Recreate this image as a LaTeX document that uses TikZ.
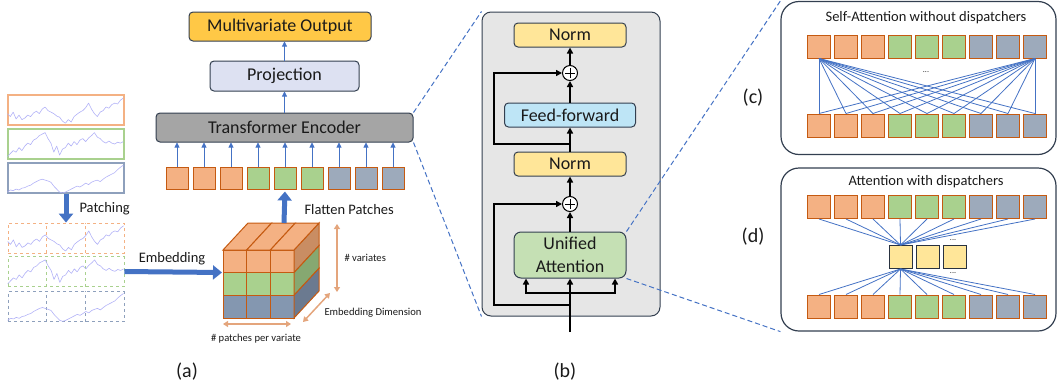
\documentclass[tikz,border=0pt]{standalone}
\usepackage{fontspec}
\setmainfont{Carlito}
\usetikzlibrary{arrows.meta,calc}
\definecolor{orF}{HTML}{F4B183}
\definecolor{orD}{HTML}{C55A11}
\definecolor{orL}{HTML}{F4B183}
\definecolor{grF}{HTML}{A9D18E}
\definecolor{blF}{HTML}{9DAABB}
\definecolor{blF2}{HTML}{8497B0}
\definecolor{orS}{HTML}{C98D63}
\definecolor{grS}{HTML}{86A871}
\definecolor{blS}{HTML}{6B7A90}
\definecolor{orT}{HTML}{F4B183}
\definecolor{blL}{HTML}{8EA0BC}
\definecolor{bl}{HTML}{4472C4}
\definecolor{tanc}{HTML}{E4A57C}
\definecolor{dark}{HTML}{333F50}
\definecolor{gold}{HTML}{FFC846}
\definecolor{lav}{HTML}{DDE1F2}
\definecolor{teg}{HTML}{A5A5A5}
\definecolor{bgg}{HTML}{E6E6E6}
\definecolor{yel}{HTML}{FFE699}
\definecolor{ffb}{HTML}{BEE5F6}
\definecolor{uag}{HTML}{C5E0B4}
\definecolor{ser}{HTML}{B2B2F7}
\definecolor{txt}{HTML}{1A1A1A}
\newcommand\valA{0.30,0.45,0.22,0.35,0.20,0.25,0.35,0.30,0.42,0.48,0.40,0.55,0.62,0.50,0.45,0.40,0.32,0.28,0.15,0.08,0.20,0.12,0.30,0.38,0.45,0.50,0.60,0.75,0.55,0.40,0.30,0.45,0.50,0.62,0.58,0.70,0.75,0.72,0.85,0.92}
\newcommand\valB{0.20,0.30,0.25,0.40,0.30,0.45,0.55,0.50,0.65,0.70,0.80,0.85,0.90,0.70,0.55,0.25,0.45,0.15,0.35,0.40,0.55,0.45,0.60,0.50,0.65,0.70,0.60,0.72,0.80,0.90,0.75,0.70,0.60,0.55,0.62,0.55,0.52,0.58,0.55,0.60}
\newcommand\valC{0.12,0.10,0.15,0.12,0.18,0.20,0.25,0.28,0.35,0.40,0.45,0.48,0.45,0.42,0.38,0.25,0.15,0.05,0.02,0.05,0.10,0.15,0.20,0.25,0.22,0.28,0.35,0.30,0.38,0.42,0.45,0.40,0.48,0.55,0.60,0.65,0.70,0.80,0.88,0.95}
\newcommand\serdraw[2]{\draw[serie] (0,#1) foreach \v [count=\i] in #2 { -- ({\i/40},\v) };}
\newcommand\boxser[3]{%
  \begin{scope}[shift={(#1.south west)}, x=116pt, y=30pt]
    \clip (0,0) rectangle (1,1);
    \serdraw{#2}{#3}
  \end{scope}}
\newcommand\patchser[4]{%
  \draw[#4, dashed, line width=0.8pt] ($(#1.south west)+(38.67,0)$) -- ($(#1.north west)+(38.67,0)$);
  \draw[#4, dashed, line width=0.8pt] ($(#1.south west)+(77.33,0)$) -- ($(#1.north west)+(77.33,0)$);
  \boxser{#1}{#2}{#3}}
\tikzset{
  tok/.style={draw=orD, line width=1pt, minimum size=22pt, inner sep=0pt},
  tokc/.style={draw=orD, line width=1pt, minimum size=23pt, inner sep=0pt},
  disp/.style={draw=dark!80!black, line width=1pt, minimum size=23pt, inner sep=0pt, fill=yel},
  rbox/.style={draw=dark, rounded corners=4pt, line width=1pt, inner sep=0pt, align=center, text=txt},
  tarr/.style={draw=bl, line width=0.8pt, -{Triangle[length=5pt,width=5pt]}},
  bigarr/.style={draw=bl, line width=5pt, -{Triangle[length=9pt,width=14pt]}},
  tanarr/.style={draw=tanc, line width=1.5pt, {Triangle[length=5pt,width=6pt]}-{Triangle[length=5pt,width=6pt]}},
  barr/.style={draw=black, line width=1.6pt, -{Triangle[length=6pt,width=6pt]}},
  zl/.style={draw=bl, dash pattern=on 5pt off 3pt, line width=1pt},
  al/.style={draw=bl, line width=0.8pt},
  sbox/.style={minimum width=116pt, minimum height=30pt, inner sep=0pt, line width=1.2pt},
  serie/.style={draw=ser, line width=0.6pt, line join=round},
  cube/.style={draw=orD, line width=1pt},
  plus/.style={circle, draw=black, line width=1pt, fill=white, minimum size=15pt, inner sep=0pt,
    path picture={\draw[line width=1pt] ([xshift=-5pt]path picture bounding box.center) -- ([xshift=5pt]path picture bounding box.center);
                  \draw[line width=1pt] ([yshift=-5pt]path picture bounding box.center) -- ([yshift=5pt]path picture bounding box.center);}},
  mid/.style={font=\fontsize{14.5}{17}\selectfont, text=txt},
  small/.style={font=\fontsize{10.6}{12}\selectfont, text=txt},
  lab/.style={font=\fontsize{20}{24}\selectfont, text=txt},
  dots/.style={font=\fontsize{8}{9}\selectfont, text=txt, inner sep=0pt},
}
\begin{document}
\begin{tikzpicture}[x=1pt,y=-1pt,font=\fontsize{18}{21}\selectfont]
\useasboundingbox (0,0) rectangle (1057,389);

% ---------- (a) ----------
\node[rbox, fill=gold, minimum width=182pt, minimum height=29pt] (out) at (280,26.5) {Multivariate Output};
\node[rbox, fill=lav, minimum width=149pt, minimum height=30pt] (proj) at (284.5,76) {Projection};
\node[rbox, fill=teg, minimum width=257pt, minimum height=29pt] (te) at (284.5,127.5) {Transformer Encoder};
\draw[tarr] (te.north) -- (proj.south);
\draw[tarr] (proj.north) -- (proj.north |- out.south);

\foreach \i/\c in {1/orF,2/orF,3/orF,4/grF,5/grF,6/grF,7/blF,8/blF,9/blF}
  \node[tok, fill=\c] (t\i) at ({177+27*(\i-1)},178) {};
\foreach \i in {1,...,9}
  \draw[tarr] (t\i.north) -- (t\i.north |- te.south);

% series boxes
\node[sbox, draw=orL] (s1) at (66,110) {};
\node[sbox, draw=grF] (s2) at (66,144) {};
\node[sbox, draw=blL] (s3) at (66,178) {};
\boxser{s1}{0.40}{\valA}
\boxser{s2}{0.10}{\valB}
\boxser{s3}{0.05}{\valC}
% patches
\node[sbox, draw=orL, dashed, line width=0.8pt] (p1) at (66,238) {};
\node[sbox, draw=grF, dashed, line width=0.8pt] (p2) at (66,271.5) {};
\node[sbox, draw=blL, dashed, line width=0.8pt] (p3) at (66,306.5) {};
\patchser{p1}{0.40}{\valA}{orL}
\patchser{p2}{0.10}{\valB}{grF}
\patchser{p3}{0.05}{\valC}{blL}
\draw[bigarr] (s3.south) -- (p1.north);
\node[mid, anchor=west] (patching) at (76,209) {Patching};

% cube
\foreach \r/\c/\d in {0/orF/orS, 1/grF/grS, 2/blF2/blS}{
  \foreach \k in {0,1,2}
    \draw[cube, fill=\c] ({223+23.67*\k},{250+22.67*\r}) rectangle ++(23.67,22.67);
  \draw[cube, fill=\d] (294,{250+22.67*\r}) -- ++(25,-27) -- ++(0,22.67) -- ++(-25,27) -- cycle;
}
\foreach \k in {0,1,2}
  \draw[cube, fill=orT] ({223+23.67*\k},250) -- ++(23.67,0) -- ++(25,-27) -- ++(-23.67,0) -- cycle;

\coordinate (cubeL) at (222,272.5);
\coordinate (cubeT) at (284,223);
\draw[bigarr] (p2.east) -- (cubeL);
\node[mid] (emb) at (172,259) {Embedding};
\draw[bigarr, shorten >=2pt] (cubeT) -- (t5.south);
\node[mid, anchor=west] (flat) at (301,210) {Flatten Patches};

\coordinate (va1) at (337,224); \coordinate (va2) at (337,292);
\coordinate (ed1) at (303,322); \coordinate (ed2) at (330,293);
\coordinate (pp1) at (223,324); \coordinate (pp2) at (291,324);
\draw[tanarr] (va1) -- (va2);
\draw[tanarr] (ed1) -- (ed2);
\draw[tanarr] (pp1) -- (pp2);
\node[small, anchor=west] (lvar) at (341,258) {\# variates};
\node[small, anchor=west] (ledim) at (321,313) {Embedding Dimension};
\node[small] (lpp) at (256,339) {\# patches per variate};

% ---------- (b) ----------
\node[draw=dark, fill=bgg, rounded corners=9pt, line width=1pt, minimum width=178pt, minimum height=304pt, inner sep=0pt] (bb) at (571,164) {};
\node[rbox, fill=yel, minimum width=112pt, minimum height=24pt] (nt) at (570,35) {Norm};
\node[rbox, fill=ffb, minimum width=131pt, minimum height=24pt] (ff) at (570,115) {Feed-forward};
\node[rbox, fill=yel, minimum width=112pt, minimum height=24pt] (nm) at (570,164) {Norm};
\node[rbox, fill=uag, minimum width=112pt, minimum height=46pt, rounded corners=7pt, font=\fontsize{18}{23}\selectfont] (ua) at (570,255) {Unified\\Attention};
\node[plus] (pl1) at (570,73) {};
\node[plus] (pl2) at (570,204) {};
\coordinate (inp) at (570,332);
\coordinate (br) at (570,293);
\coordinate (r1) at (570,305); \coordinate (c1) at (494,305);
\coordinate (r2) at (570,144); \coordinate (c2) at (494,144);
\draw[barr] (inp) -- (ua.south);
\draw[barr] (br) -| ([xshift=-44pt]ua.south);
\draw[barr] (br) -| ([xshift=45pt]ua.south);
\draw[barr] (r1) -- (c1) |- (pl2.west);
\draw[barr] (ua.north) -- (pl2.south);
\draw[barr] (pl2.north) -- (nm.south);
\draw[barr] (nm.north) -- (ff.south);
\draw[barr] (r2) -- (c2) |- (pl1.west);
\draw[barr] (ff.north) -- (pl1.south);
\draw[barr] (pl1.north) -- (nt.south);

% ---------- (c) ----------
\node[draw=dark, rounded corners=18pt, line width=1.2pt, minimum width=275pt, minimum height=153pt, inner sep=0pt] (cbox) at (918.5,78) {};
\node[mid] (ctitle) at (926,18) {Self-Attention without dispatchers};
\foreach \i/\c in {1/orF,2/orF,3/orF,4/grF,5/grF,6/grF,7/blF,8/blF,9/blF}{
  \node[tokc, fill=\c] (ct\i) at ({819+27*(\i-1)},46.5) {};
  \node[tokc, fill=\c] (cb\i) at ({819+27*(\i-1)},125.5) {};
}
\foreach \i in {1,...,9}{
  \draw[al] (ct1.south) -- (cb\i.north);
  \draw[al] (ct9.south) -- (cb\i.north);
}
\node[dots] (cdots) at (926,72) {...};

% ---------- (d) ----------
\node[draw=dark, rounded corners=18pt, line width=1.2pt, minimum width=275pt, minimum height=163pt, inner sep=0pt] (dbox) at (918.5,249.5) {};
\node[mid] (dtitle) at (926,182) {Attention with dispatchers};
\foreach \i/\c in {1/orF,2/orF,3/orF,4/grF,5/grF,6/grF,7/blF,8/blF,9/blF}{
  \node[tokc, fill=\c] (dt\i) at ({819+27*(\i-1)},207) {};
  \node[tokc, fill=\c] (db\i) at ({819+27*(\i-1)},306.5) {};
}
\node[disp] (dd1) at (900.5,257) {};
\node[disp] (dd2) at (927.5,257) {};
\node[disp] (dd3) at (954.5,257) {};
\foreach \i in {1,...,9}{
  \draw[al] (dt\i.south) -- (dd1.north);
  \draw[al] (dd1.south) -- (db\i.north);
}
\node[dots] (ddots1) at (953,240) {...};
\node[dots] (ddots2) at (953,273) {...};

% zoom lines
\draw[zl] (te.north east) -- (bb.north west);
\draw[zl] (te.south east) -- (bb.south west);
\draw[zl] (ua.north east) -- (cbox.north west);
\draw[zl] (ua.south east) -- (dbox.south west);

% labels
\node[lab] (la) at (187,372) {(a)};
\node[lab] (lb) at (565,372) {(b)};
\node[lab] (lc) at (753,98) {(c)};
\node[lab] (ld) at (753,237) {(d)};
\end{tikzpicture}
\end{document}
